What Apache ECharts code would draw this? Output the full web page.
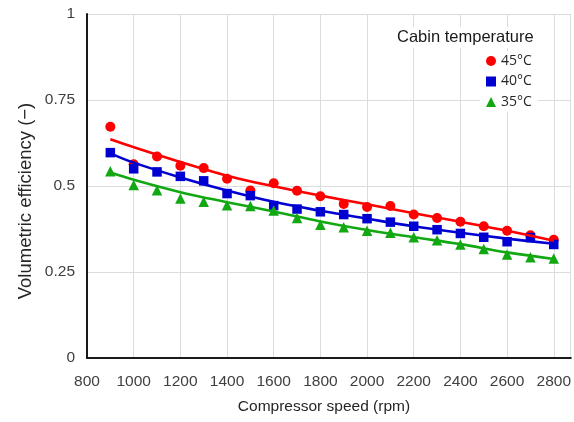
<!DOCTYPE html>
<html>
<head>
<meta charset="utf-8">
<script src="https://cdn.jsdelivr.net/npm/echarts@6/dist/echarts.min.js"></script>
<style>html,body{margin:0;padding:0;background:#fff;overflow:hidden}#c{width:574px;height:422px}</style>
</head>
<body>
<div id="c"></div>
<script>
// Measured points (compressor speed, rpm)
const speeds = [900,1000,1100,1200,1300,1400,1500,1600,1700,1800,1900,2000,2100,2200,2300,2400,2500,2600,2700,2800];
const eff45 = [0.672,0.563,0.586,0.559,0.552,0.521,0.487,0.508,0.486,0.470,0.448,0.439,0.442,0.417,0.407,0.396,0.383,0.370,0.357,0.344];
const eff40 = [0.597,0.550,0.541,0.528,0.515,0.478,0.472,0.443,0.433,0.425,0.417,0.405,0.395,0.383,0.373,0.362,0.351,0.338,0.350,0.330];
const eff35 = [0.543,0.503,0.488,0.464,0.454,0.444,0.442,0.429,0.407,0.387,0.380,0.370,0.364,0.351,0.342,0.330,0.317,0.301,0.293,0.289];
// Trend lines
const trendSpeeds = [900,1000,1200,1400,1600,1800,2000,2200,2400,2600,2800];
const trend45 = [0.636,0.613,0.570,0.530,0.499,0.472,0.447,0.421,0.396,0.370,0.341];
const trend40 = [0.595,0.568,0.525,0.487,0.454,0.428,0.405,0.383,0.364,0.347,0.332];
const trend35 = [0.539,0.518,0.482,0.453,0.426,0.397,0.372,0.351,0.331,0.307,0.288];
const seriesNames = ['45°C','40°C','35°C'];
const legendTitle = 'Cabin temperature';
const xTitle = 'Compressor speed (rpm)';
const yTitle = 'Volumetric efficiency (−)';

const colors = ['#ff0000','#0000d0','#12a812'];
const symbols = ['circle','rect','triangle'];
const sizes = [10,9.5,10.5];
const pts = [eff45, eff40, eff35];
const trends = [trend45, trend40, trend35];
const font = 'Liberation Sans, Arial, sans-serif';

const series = [];
for (let i = 0; i < 3; i++) {
  series.push({
    name: seriesNames[i], type: 'scatter', symbol: symbols[i], symbolSize: sizes[i],
    itemStyle: {color: colors[i], opacity: 1}, z: 2,
    data: speeds.map((s, k) => [s, pts[i][k]])
  });
}
for (let i = 0; i < 3; i++) {
  series.push({
    name: 'trend' + i, type: 'line', smooth: 0.4, showSymbol: false, symbol: 'none',
    lineStyle: {color: colors[i], width: 2.6}, z: 3, silent: true,
    data: trendSpeeds.map((s, k) => [s, trends[i][k]])
  });
}

const chart = echarts.init(document.getElementById('c'), null, {renderer: 'canvas'});
chart.setOption({
  animation: false,
  backgroundColor: '#fff',
  grid: {left: 87, right: 0, top: 14, bottom: 64},
  title: {
    text: legendTitle, left: 393, top: 27,
    backgroundColor: '#fff', padding: [2, 4],
    textStyle: {fontFamily: font, fontSize: 16.5, fontWeight: 'normal', color: '#1a1a1a'}
  },
  legend: {
    data: seriesNames, orient: 'vertical', left: 480, top: 51,
    backgroundColor: '#fff', padding: [3, 6],
    itemWidth: 10, itemHeight: 10, itemGap: 6.5,
    textStyle: {fontFamily: 'Open Sans, Liberation Sans, sans-serif', fontSize: 14, color: '#262626', lineHeight: 14}
  },
  graphic: [
    {type: 'text', x: 324, y: 407, z: 10,
     style: {text: xTitle, font: '15.5px ' + font, fill: '#262626', textAlign: 'center', textVerticalAlign: 'middle'}},
    {type: 'text', x: 26, y: 201, rotation: Math.PI / 2, z: 10,
     style: {text: yTitle, font: '18.5px ' + font, fill: '#262626', textAlign: 'center', textVerticalAlign: 'middle'}}
  ],
  xAxis: [{
    type: 'value', min: 800, max: 2872, interval: 200,
    axisLine: {show: true, onZero: false, lineStyle: {color: '#1a1a1a', width: 2}},
    axisTick: {show: false},
    axisLabel: {fontFamily: font, fontSize: 15.5, color: '#404040', margin: 16, showMaxLabel: false,
      formatter: v => (v % 200 === 0 ? String(v) : '')},
    splitLine: {show: true, lineStyle: {color: '#dcdcdc', width: 1}}
  }, {
    type: 'value', position: 'top', min: 800, max: 2872,
    axisLine: {show: true, lineStyle: {color: '#1a1a1a', width: 2}},
    axisTick: {show: false}, axisLabel: {show: false}, splitLine: {show: false}
  }],
  yAxis: {
    type: 'value', min: 0, max: 1, interval: 0.25,
    axisLine: {show: true, lineStyle: {color: '#1a1a1a', width: 2}},
    axisTick: {show: false},
    axisLabel: {fontFamily: font, fontSize: 15.5, color: '#404040', margin: 12},
    splitLine: {show: true, lineStyle: {color: '#dcdcdc', width: 1}}
  },
  series: series
});
</script>
</body>
</html>
